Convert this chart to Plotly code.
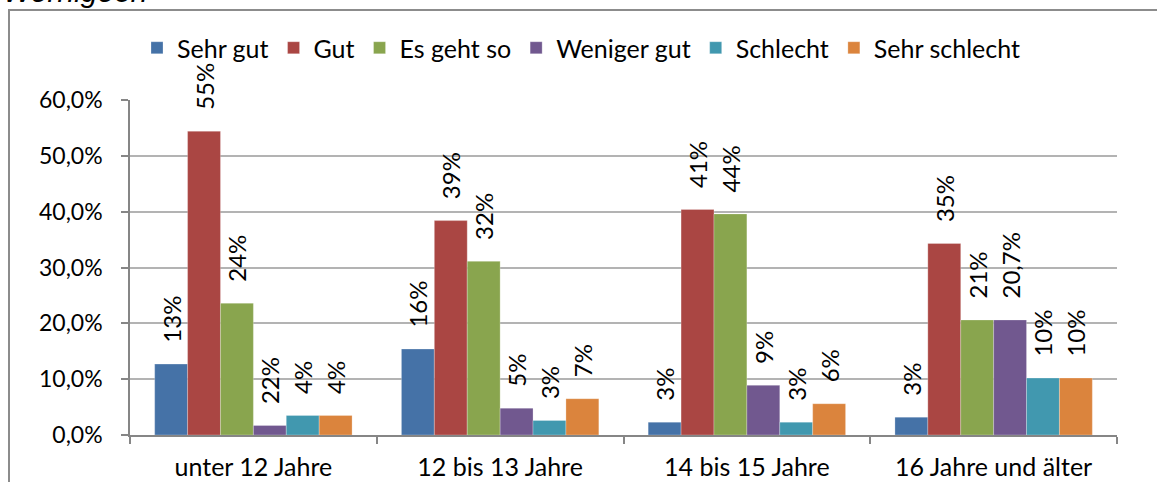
import plotly.graph_objects as go

categories = ["unter 12 Jahre", "12 bis 13 Jahre", "14 bis 15 Jahre", "16 Jahre und älter"]
series_names = ["Sehr gut", "Gut", "Es geht so", "Weniger gut", "Schlecht", "Sehr schlecht"]
colors = ["#4572A7", "#AA4643", "#89A54E", "#71588F", "#4198AF", "#DB843D"]

sehr_gut = [12.7, 15.4, 2.3, 3.2]
gut = [54.4, 38.4, 40.4, 34.3]
es_geht_so = [23.6, 31.1, 39.6, 20.6]
weniger_gut = [1.7, 4.8, 8.9, 20.6]
schlecht = [3.5, 2.6, 2.3, 10.2]
sehr_schlecht = [3.5, 6.5, 5.6, 10.2]

lbl_sehr_gut = ["13%", "16%", "3%", "3%"]
lbl_gut = ["55%", "39%", "41%", "35%"]
lbl_es_geht_so = ["24%", "32%", "44%", "21%"]
lbl_weniger_gut = ["22%", "5%", "9%", "20,7%"]
lbl_schlecht = ["4%", "3%", "3%", "10%"]
lbl_sehr_schlecht = ["4%", "7%", "6%", "10%"]

y_ticks = [0, 10, 20, 30, 40, 50, 60]
y_tick_text = ["0,0%", "10,0%", "20,0%", "30,0%", "40,0%", "50,0%", "60,0%"]
title_text = "Wernigeon"

values = [sehr_gut, gut, es_geht_so, weniger_gut, schlecht, sehr_schlecht]
labels = [lbl_sehr_gut, lbl_gut, lbl_es_geht_so, lbl_weniger_gut, lbl_schlecht, lbl_sehr_schlecht]

W, H = 1157, 482
ML, MT = 130, 100
PB, PR = 435, 1117
MR = W - PR
MB = H - PB
PW, PH = PR - ML, PB - MT

def px_x(x):
    return (x - ML) / PW

def px_y(y):
    return (PB - y) / PH

font_main = "Lato, 'Open Sans', sans-serif"

fig = go.Figure()
for name, vals, lbls, col in zip(series_names, values, labels, colors):
    fig.add_trace(go.Bar(
        name=name, x=categories, y=vals,
        text=["\u00a0\u00a0\u00a0" + t for t in lbls],
        textposition="outside", textangle=-90,
        textfont=dict(family=font_main, size=24, color="#000000"),
        constraintext="none", cliponaxis=False,
        marker=dict(color=col, line=dict(color="rgba(255,255,255,0.5)", width=0.5)),
        hoverinfo="skip",
    ))

fig.update_layout(
    width=W, height=H,
    margin=dict(l=ML, r=MR, t=MT, b=MB, pad=0, autoexpand=False),
    paper_bgcolor="white", plot_bgcolor="white",
    barmode="group", bargap=0.2, bargroupgap=0,
    separators=",.",
    showlegend=True,
    legend=dict(
        orientation="h", x=px_x(137), xanchor="left",
        y=px_y(48), yanchor="middle",
        font=dict(family=font_main, size=25, color="#000000"),
        bgcolor="rgba(0,0,0,0)", itemwidth=30, traceorder="normal",
    ),
    font=dict(family=font_main, size=24, color="#000000"),
)

fig.update_yaxes(
    range=[0, 60], tickvals=y_ticks, ticktext=y_tick_text,
    showgrid=True, gridcolor="#b3b3b3", gridwidth=1.5,
    showline=True, linecolor="#868686", linewidth=1.5,
    ticks="outside", ticklen=7, tickcolor="#868686", tickwidth=1.5,
    ticklabelstandoff=14, automargin=False,
    tickfont=dict(family=font_main, size=23, color="#000000"),
    zeroline=False, fixedrange=True,
)
fig.update_xaxes(
    showline=True, linecolor="#868686", linewidth=1.5,
    ticks="outside", ticklen=7, tickcolor="#868686", tickwidth=1.5,
    tickson="boundaries", ticklabelstandoff=9, automargin=False,
    tickfont=dict(family=font_main, size=25, color="#000000"),
    showgrid=False, fixedrange=True,
)

# outer chart frame
fig.add_shape(type="rect", xref="paper", yref="paper",
              x0=px_x(9), x1=px_x(W + 30),
              y0=px_y(H + 30), y1=px_y(10),
              line=dict(color="#8c8c8c", width=2), layer="below")

fig.add_annotation(text="<i>" + title_text + "</i>", xref="paper", yref="paper",
                   x=px_x(1), xanchor="left",
                   y=px_y(10), yanchor="bottom",
                   showarrow=False,
                   font=dict(family="Liberation Sans, Arial, sans-serif", size=30, color="#000000"))

fig.write_html("out.html", config={"displayModeBar": False},
               post_script="document.body.style.margin='0px';document.body.style.overflow='hidden';")
